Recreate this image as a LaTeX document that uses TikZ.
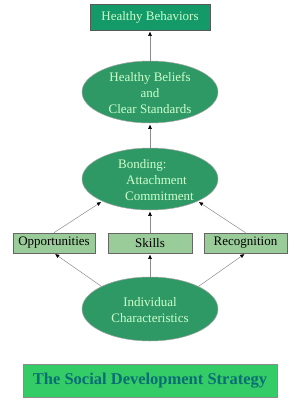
\documentclass[tikz,border=0pt]{standalone}
\usepackage{fontspec}
\setmainfont{Liberation Serif}
\usetikzlibrary{shapes.geometric,arrows.meta}
\definecolor{darkbox}{HTML}{139A68}
\definecolor{ellfill}{HTML}{2F9966}
\definecolor{lightbox}{HTML}{99CC99}
\definecolor{titlefill}{HTML}{33CC66}
\definecolor{titletext}{HTML}{0B6E74}
\definecolor{paletext}{HTML}{CCFFCC}
\begin{document}
\begin{tikzpicture}[x=1pt,y=-1pt,
  txt/.style={font=\fontsize{13}{15}\selectfont, inner sep=0pt},
  topbox/.style={draw=black!65, fill=darkbox, line width=0.6pt, text=paletext, txt, minimum width=120pt, minimum height=26pt},
  ell/.style={ellipse, draw=black!35, fill=ellfill, line width=0.5pt, minimum width=136pt, minimum height=62pt, inner sep=0pt},
  etxt/.style={txt, text=paletext, anchor=base},
  lbox/.style={draw=black!60, fill=lightbox, line width=0.6pt, txt, minimum height=20pt},
  conn/.style={draw=black!45, line width=0.5pt, -{Triangle[length=4pt,width=3.5pt,color=black]}, shorten >=1.5pt},
]
\useasboundingbox (0,0) rectangle (300,400);
\fill[white] (0,0) rectangle (300,400);

\node[topbox] (hb) at (150,17) {Healthy Behaviors};

\node[ell] (beliefs) at (150,92) {};
\node[etxt] (b1) at (150,81.5) {Healthy Beliefs};
\node[etxt] (b2) at (150,97.5) {and};
\node[etxt] (b3) at (150,113) {Clear Standards};

\node[ell] (bond) at (150,179) {};
\node[etxt, anchor=base west] (d1) at (118,168) {Bonding:};
\node[etxt, anchor=base west] (d2) at (126,184) {Attachment};
\node[etxt, anchor=base west] (d3) at (125,200) {Commitment};

\node[lbox, minimum width=82pt] (opp) at (54,243) {Opportunities};
\node[lbox, minimum width=84pt] (skills) at (150,243) {Skills};
\node[lbox, minimum width=83pt] (recog) at (245.5,243) {Recognition};

\node[ell, minimum height=64pt] (ind) at (150,309) {};
\node[etxt] (i1) at (150,306) {Individual};
\node[etxt] (i2) at (150,322) {Characteristics};

\node[draw=black!45, fill=titlefill, line width=0.8pt, minimum width=254pt, minimum height=33pt, inner sep=0pt,
      text=titletext, font=\fontsize{16.5}{18}\selectfont\bfseries] (title) at (150,380.5) {The Social Development Strategy};

\draw[conn] (beliefs.north) -- (hb.south);
\draw[conn] (bond.north) -- (beliefs.south);
\draw[conn] (opp.north) -- (bond.205);
\draw[conn] (skills.north) -- (bond.south);
\draw[conn] (recog.north) -- (bond.335);
\draw[conn] (ind.155) -- (opp.south);
\draw[conn] (ind.north) -- (skills.south);
\draw[conn] (ind.25) -- (recog.south);
\end{tikzpicture}
\end{document}
